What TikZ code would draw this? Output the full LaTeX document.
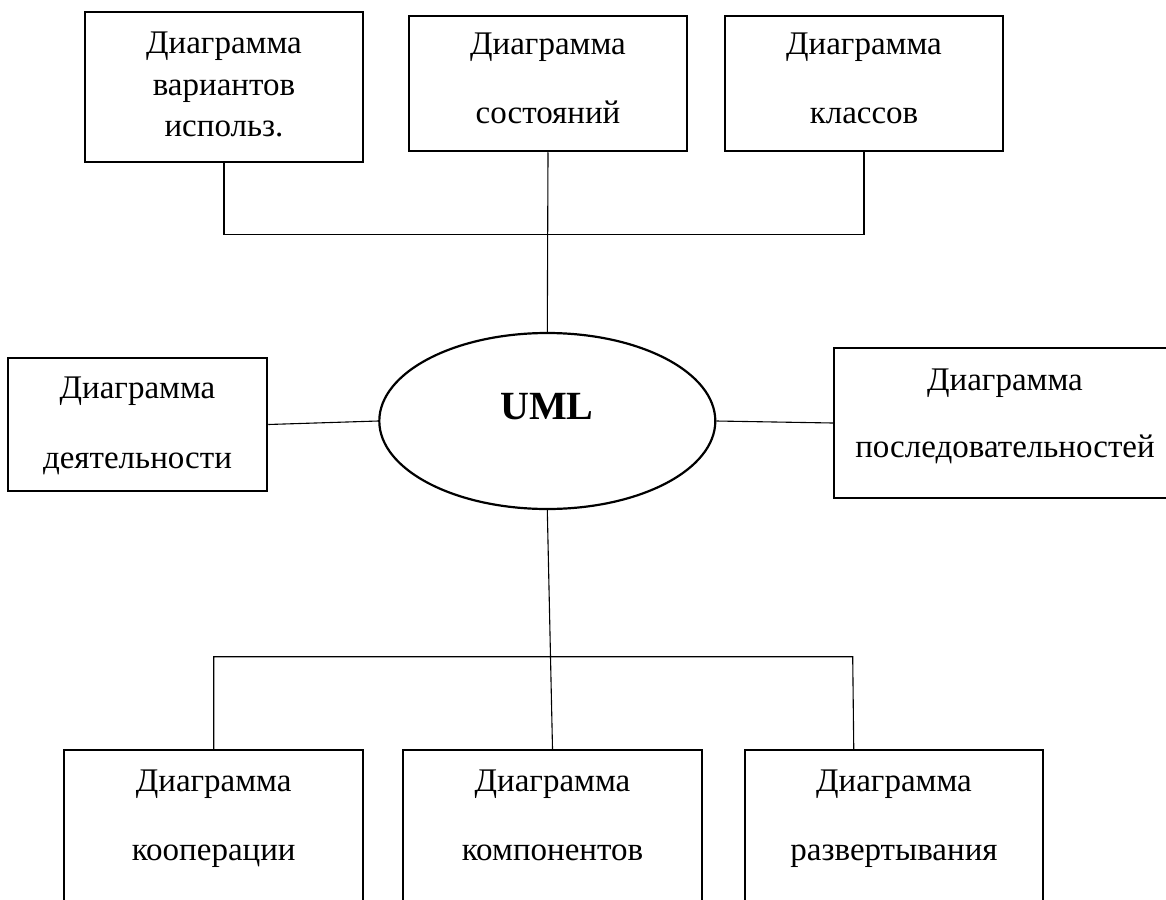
\documentclass[tikz,border=0pt]{standalone}
\usepackage{fontspec}
\setmainfont{Liberation Serif}
\usetikzlibrary{shapes.geometric}
\begin{document}
\begin{tikzpicture}[x=1pt,y=-1pt,
  box/.style={draw, line width=2.5pt, inner sep=0pt, anchor=center},
  oval/.style={draw, ellipse, line width=2.2pt, inner sep=0pt, minimum width=336pt, minimum height=176pt},
  txt/.style={anchor=base, inner sep=0pt, font=\fontsize{33}{40}\selectfont},
  wire/.style={line width=1.1pt}]
\clip (0,0) rectangle (1166,899);
\fill[white] (0,0) rectangle (1166,899);
% top row
\node[box, minimum width=278pt, minimum height=150pt] (uc) at (224,87) {};
\node[txt] (uc1) at (224,53.3) {Диаграмма};
\node[txt] (uc2) at (224,95) {вариантов};
\node[txt] (uc3) at (224,136.7) {использ.};
\node[box, minimum width=278pt, minimum height=135pt] (st) at (548,83.5) {};
\node[txt] (st1) at (548,55) {Диаграмма};
\node[txt] (st2) at (548,123.3) {состояний};
\node[box, minimum width=278pt, minimum height=135pt] (cl) at (864,83.5) {};
\node[txt] (cl1) at (864,55) {Диаграмма};
\node[txt] (cl2) at (864,123.3) {классов};
% middle row
\node[oval] (uml) at (547.3,421) {};
\node[anchor=base, inner sep=0pt, font=\fontsize{40}{44}\selectfont\bfseries] (umlt) at (547,419) {UML};
\node[box, minimum width=259pt, minimum height=133pt] (act) at (137.5,424.5) {};
\node[txt] (act1) at (137.5,398) {Диаграмма};
\node[txt] (act2) at (137.5,468) {деятельности};
\node[box, minimum width=342pt, minimum height=150pt] (seq) at (1005,423) {};
\node[txt] (seq1) at (1005,390) {Диаграмма};
\node[txt] (seq2) at (1005,457.7) {последовательностей};
% bottom row
\node[box, minimum width=299pt, minimum height=200pt] (coop) at (213.7,850) {};
\node[txt] (coop1) at (213.7,791.7) {Диаграмма};
\node[txt] (coop2) at (213.7,860) {кооперации};
\node[box, minimum width=299pt, minimum height=200pt] (comp) at (552.5,850) {};
\node[txt] (comp1) at (552.5,791.7) {Диаграмма};
\node[txt] (comp2) at (552.5,860) {компонентов};
\node[box, minimum width=298pt, minimum height=200pt] (depl) at (894,850) {};
\node[txt] (depl1) at (894,791.7) {Диаграмма};
\node[txt] (depl2) at (894,860) {развертывания};
% connectors
\coordinate (tl) at (224,234.3);
\coordinate (tr) at (864,234.3);
\draw[wire] (uc.south) -- (tl) -- (tr) -- (cl.south);
\draw[wire] (st.south) -- (uml.north);
\draw[wire] (act.east) -- (uml.west);
\draw[wire] (uml.east) -- (seq.west);
\coordinate (bl) at (213.7,656.7);
\coordinate (br) at (852.7,656.7);
\coordinate (dtop) at ([xshift=110pt]depl.north west);
\draw[wire] (coop.north) -- (bl) -- (br) -- (dtop);
\draw[wire] (uml.south) -- (comp.north);
\end{tikzpicture}
\end{document}
